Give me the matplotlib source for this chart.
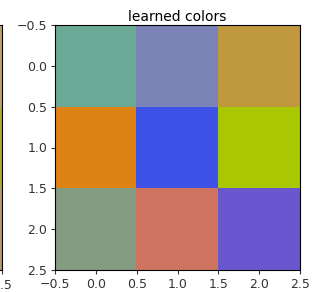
import numpy as np
import matplotlib
matplotlib.use("Agg")
import matplotlib.pyplot as plt

title = "learned colors"
learned = np.array([
    [[107, 170, 150], [122, 130, 182], [192, 152, 62]],
    [[222, 130, 22], [62, 82, 232], [170, 200, 2]],
    [[132, 156, 130], [206, 116, 96], [106, 86, 206]],
]) / 255.0
left_partial = np.array([
    [[150, 150, 150], [150, 150, 150], [190, 160, 110]],
    [[150, 150, 150], [150, 150, 150], [172, 168, 50]],
    [[150, 150, 150], [150, 150, 150], [182, 152, 112]],
]) / 255.0
ticks = [-0.5, 0.0, 0.5, 1.0, 1.5, 2.0, 2.5]
tick_labels = [f"{t:.1f}".replace("-", "\u2212") for t in ticks]

W, H = 322, 292
fig = plt.figure(figsize=(W / 100, H / 100), dpi=100)

def rect(l, r, t, b):
    return [l / W, 1 - b / H, (r - l) / W, (b - t) / H]

ax0 = fig.add_axes(rect(-243, 2, 25, 270))
ax0.imshow(left_partial, extent=(-0.5, 2.5, 2.5, -0.5))
ax0.set_xticks([ticks[-1]])
ax0.set_xticklabels([tick_labels[-1]])
ax0.set_yticks([])
ax0.tick_params(labelsize=9, length=3, width=0.8, colors="#333333")

ax = fig.add_axes(rect(55, 300, 25, 270))
ax.imshow(learned, extent=(-0.5, 2.5, 2.5, -0.5))
ax.set_xticks(ticks)
ax.set_yticks(ticks)
ax.set_xticklabels(tick_labels)
ax.set_yticklabels(tick_labels)
ax.tick_params(labelsize=9, length=3, width=0.8, colors="#333333", pad=2.5)
ax.set_title(title, fontsize=10, pad=3)

fig.savefig("out.png", dpi=100)
